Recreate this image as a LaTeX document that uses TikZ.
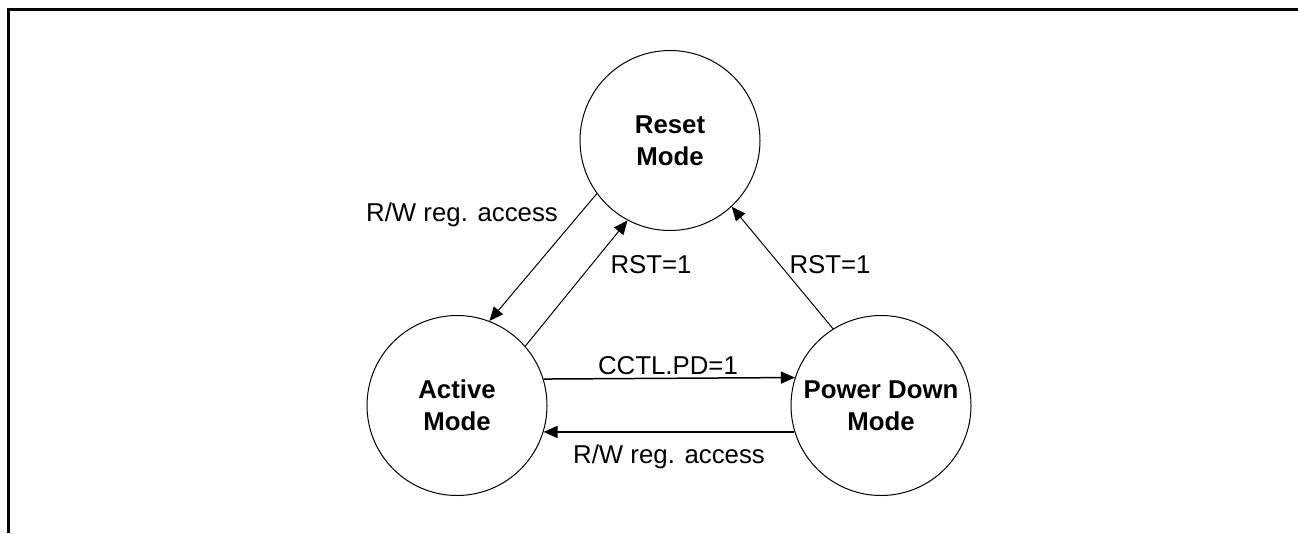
\documentclass[tikz,border=0pt]{standalone}
\usepackage{fontspec}
\setmainfont{Liberation Sans}
\usetikzlibrary{arrows.meta}
\begin{document}
\begin{tikzpicture}[x=1pt,y=-1pt,
  state/.style={draw, circle, line width=1pt, minimum size=180pt, inner sep=0pt,
    align=center, font=\fontsize{25.8}{32}\selectfont\bfseries},
  lbl/.style={anchor=base, inner sep=0pt, font=\fontsize{25.8}{32}\selectfont},
  conn/.style={-{Triangle[length=14pt,width=12pt]}, line width=1pt},
  hconn/.style={-{Triangle[length=14pt,width=12pt]}, line width=1.5pt}]
\useasboundingbox (0,0) rectangle (1298,533);
\draw[line width=3pt] (8.5,533) -- (8.5,9.5) -- (1298,9.5);
\node[state] (reset) at (670,140.5) {Reset\\Mode};
\node[state] (active) at (457,405.5) {Active\\Mode};
\node[state] (pd) at (881,405.5) {Power Down\\Mode};
\draw[conn] (reset.216) -- (active.69);
\draw[conn] (active.41) -- (reset.242);
\draw[conn] (pd.122) -- (reset.313);
\draw[hconn] (active.17) -- (pd.162);
\draw[hconn] (pd.197) -- (active.-17);
\node[lbl] (l1) at (462,221) {R/W reg. access};
\node[lbl] (l2) at (651,273) {RST=1};
\node[lbl] (l3) at (830,273) {RST=1};
\node[lbl] (l4) at (668,374) {CCTL.PD=1};
\node[lbl] (l5) at (669,463) {R/W reg. access};
\end{tikzpicture}
\end{document}
